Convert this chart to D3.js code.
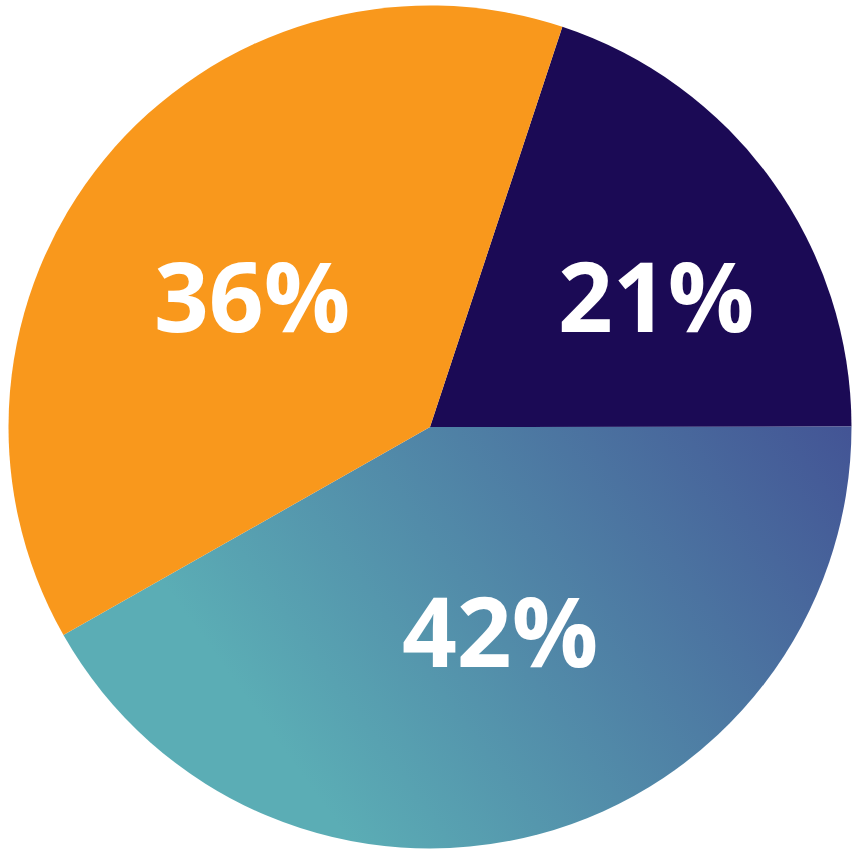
<!DOCTYPE html>
<html><head><meta charset="utf-8">
<script src="https://cdn.jsdelivr.net/npm/d3@7"></script>
<style>html,body{margin:0;padding:0;background:#fff;overflow:hidden}</style>
</head><body>
<svg id="chart" width="857" height="857"></svg>
<script>
// Data (slice sizes; labels as printed)
const categories = ["A", "B", "C"];
const values = [19.9, 41.8, 38.3];
const labels = ["21%", "42%", "36%"];
const colors = ["#1b0a55", "url(#grad)", "#f9981c"];

const svg = d3.select("#chart");
const cx = 430, cy = 427, R = 421.5;

const defs = svg.append("defs");
const g1 = defs.append("linearGradient").attr("id", "grad")
  .attr("gradientUnits", "userSpaceOnUse")
  .attr("x1", 240).attr("y1", 860).attr("x2", 851).attr("y2", 420);
g1.append("stop").attr("offset", "0%").attr("stop-color", "#5badb5");
g1.append("stop").attr("offset", "100%").attr("stop-color", "#3f4690");

const pie = d3.pie().sort(null).value(d => d)
  .startAngle(18.3 * Math.PI / 180)
  .endAngle(18.3 * Math.PI / 180 + 2 * Math.PI);
const arc = d3.arc().innerRadius(0).outerRadius(R);
const arcs = pie(values);

const g = svg.append("g").attr("transform", `translate(${cx},${cy})`);
g.selectAll("path.slice").data(arcs).join("path")
  .attr("class", "slice")
  .attr("d", arc)
  .attr("fill", (d, i) => colors[i]);

// label placement (layout only): offset from pie centre
const labelOffset = [[226, -130], [70, 205], [-178, -130]];
g.selectAll("text.lbl").data(arcs).join("text")
  .attr("class", "lbl")
  .attr("transform", (d, i) => `translate(${labelOffset[i][0]},${labelOffset[i][1]})`)
  .attr("text-anchor", "middle")
  .attr("dy", "0.36em")
  .attr("font-family", "'Open Sans', sans-serif")
  .attr("font-weight", 700)
  .attr("font-size", 96)
  .attr("fill", "#fff")
  .text((d, i) => labels[i]);
</script>
</body></html>
